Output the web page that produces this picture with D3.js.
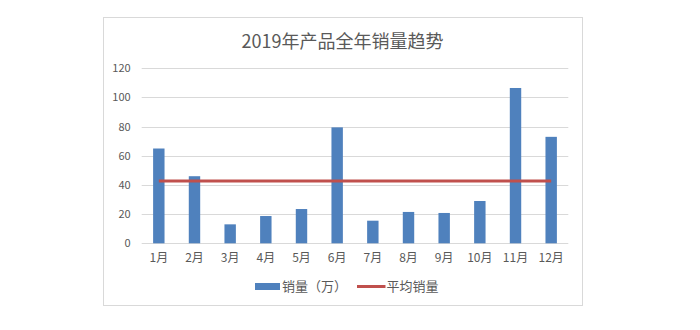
<!DOCTYPE html>
<html>
<head>
<meta charset="utf-8">
<script src="https://cdn.jsdelivr.net/npm/d3@7"></script>
<style>
  html, body { margin: 0; padding: 0; background: #fff; }
  svg { display: block; font-family: "Noto Sans CJK SC", "Microsoft YaHei", sans-serif; }
</style>
</head>
<body>
<svg id="chart" width="700" height="330"></svg>
<script>
// Monthly sales for 2019 (unit: 10k)
const months = ["1月","2月","3月","4月","5月","6月","7月","8月","9月","10月","11月","12月"];
const sales = [65, 46, 13, 18.7, 23.5, 79.5, 15.5, 21.5, 20.8, 29, 106.5, 73];
const yTicks = [0, 20, 40, 60, 80, 100, 120];
const titleText = "2019年产品全年销量趋势";
const seriesNames = ["销量（万）", "平均销量"];

const averageSales = d3.mean(sales);
const avgLine = months.map(m => ({ month: m, value: averageSales }));

const svg = d3.select("#chart");

// chart frame
svg.append("rect")
  .attr("x", 103.5).attr("y", 17.5)
  .attr("width", 479).attr("height", 288)
  .attr("fill", "#fff").attr("stroke", "#d9d9d9").attr("stroke-width", 1);

const plot = { left: 141.7, right: 568.3, top: 68.3, bottom: 243.3 };

const x = d3.scaleBand().domain(months).range([plot.left, plot.right]).paddingInner(0.68).paddingOuter(0.32);
const y = d3.scaleLinear().domain([0, 120]).range([plot.bottom, plot.top]);

// title
svg.append("text")
  .attr("x", 342.5).attr("y", 48)
  .attr("text-anchor", "middle")
  .attr("font-size", 18).attr("fill", "#595959")
  .text(titleText);

// gridlines
svg.append("g").selectAll("line").data(yTicks).join("line")
  .attr("x1", plot.left).attr("x2", plot.right)
  .attr("y1", d => Math.round(y(d)) + 0.5).attr("y2", d => Math.round(y(d)) + 0.5)
  .attr("stroke", "#d9d9d9").attr("stroke-width", 1);

// y axis labels
const yAxis = d3.axisLeft(y).tickValues(yTicks).tickSize(0).tickPadding(0);
svg.append("g")
  .attr("transform", `translate(${plot.left - 11},0)`)
  .call(yAxis)
  .call(g => g.select(".domain").remove())
  .call(g => g.selectAll("text")
    .attr("font-size", 11).attr("fill", "#595959")
    .attr("font-family", "\"Noto Sans CJK SC\", sans-serif"));

// bars
svg.append("g").selectAll("rect").data(sales).join("rect")
  .attr("x", (d, i) => x(months[i]))
  .attr("width", x.bandwidth())
  .attr("y", d => y(d))
  .attr("height", d => y(0) - y(d))
  .attr("fill", "#4f81bd");

// x axis labels
const xAxis = d3.axisBottom(x).tickSize(0).tickPadding(10);
svg.append("g")
  .attr("transform", `translate(0,${plot.bottom})`)
  .call(xAxis)
  .call(g => g.select(".domain").remove())
  .call(g => g.selectAll("text")
    .attr("font-size", 12).attr("fill", "#595959")
    .attr("font-family", "\"Noto Sans CJK SC\", sans-serif"));

// average line
const line = d3.line()
  .x(d => x(d.month) + x.bandwidth() / 2)
  .y(d => y(d.value));
svg.append("path")
  .datum(avgLine)
  .attr("d", line)
  .attr("fill", "none")
  .attr("stroke", "#c0504d")
  .attr("stroke-width", 3);

// legend
const legend = svg.append("g").attr("font-size", 13).attr("fill", "#595959");
legend.append("rect")
  .attr("x", 255).attr("y", 283).attr("width", 25).attr("height", 7)
  .attr("fill", "#4f81bd");
legend.append("text")
  .attr("x", 282).attr("y", 291)
  .text(seriesNames[0]);
legend.append("line")
  .attr("x1", 357).attr("x2", 385.5).attr("y1", 286.5).attr("y2", 286.5)
  .attr("stroke", "#c0504d").attr("stroke-width", 3);
legend.append("text")
  .attr("x", 386.5).attr("y", 291)
  .text(seriesNames[1]);
</script>
</body>
</html>
